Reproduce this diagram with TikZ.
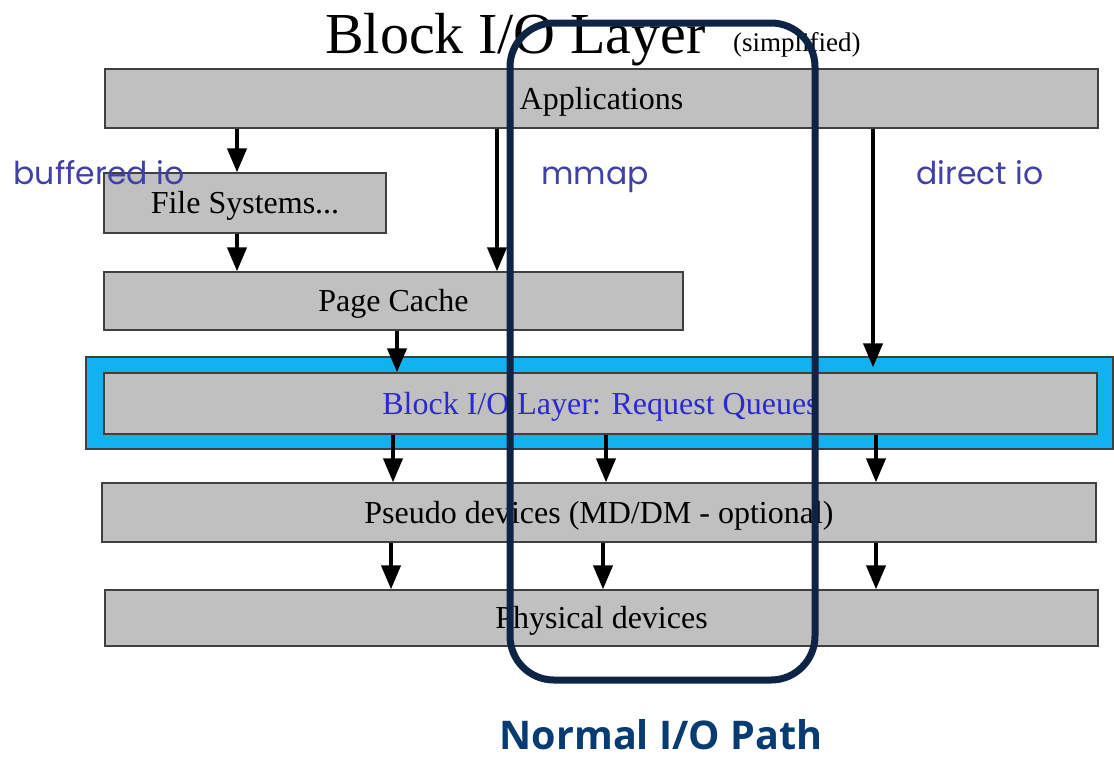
\documentclass[tikz,border=0pt]{standalone}
\usepackage{fontspec}
\setmainfont{Liberation Serif}
\newfontfamily\labelfont{Poppins}
\newfontfamily\pathfont{Open Sans}
\usetikzlibrary{arrows.meta}
\definecolor{boxgray}{HTML}{C0C0C0}
\definecolor{queuecyan}{HTML}{12B2F0}
\definecolor{queueblue}{HTML}{2A2AD0}
\definecolor{labelblue}{HTML}{4040A8}
\definecolor{navy}{HTML}{0E2444}
\definecolor{pathblue}{HTML}{073B73}
\tikzset{
  layer/.style={draw=black!75, fill=boxgray, line width=1.3pt, inner sep=0pt,
    text height=24pt, text depth=3pt, font=\fontsize{32}{36}\selectfont},
  flow/.style={line width=4pt, -{Triangle[width=19pt,length=24pt]}},
  iolabel/.style={anchor=base, text=labelblue, font=\labelfont\fontsize{31.5}{34}\selectfont, inner sep=0pt},
}
\begin{document}
\begin{tikzpicture}[x=1pt, y=-1pt]
\useasboundingbox (0,0) rectangle (1114,758);

% title
\node[anchor=base west, inner sep=0pt, font=\fontsize{58}{62}\selectfont] (title) at (325,53) {Block I/O Layer};
\node[anchor=base west, inner sep=0pt, font=\fontsize{27}{30}\selectfont] (simp) at (733,51) {(simplified)};

% layers
\node[layer, minimum width=993pt, minimum height=59pt] (app) at (601.5,98.5) {Applications};
\node[layer, minimum width=282pt, minimum height=60pt] (fs) at (245,203) {File Systems...};
\node[layer, minimum width=579pt, minimum height=58pt] (pc) at (393.5,301) {Page Cache};
\node[draw=black!75, fill=queuecyan, line width=1.3pt, minimum width=1027pt, minimum height=92pt, inner sep=0pt] (queue) at (599.5,403) {};
\node[layer, minimum width=993pt, minimum height=61pt, text=queueblue] (bio) at (600.5,403.5) {Block I/O Layer: Request Queues};
\node[layer, minimum width=994pt, minimum height=59pt] (pseudo) at (599,512.5) {Pseudo devices (MD/DM - optional)};
\node[layer, minimum width=993pt, minimum height=56pt] (phys) at (601.5,618) {Physical devices};

% arrow columns
\coordinate (cbuf) at (237,0);
\coordinate (cmmap) at (497,0);
\coordinate (cpc) at (397,0);
\coordinate (cdir) at (873,0);
\coordinate (cl) at (393,0);
\coordinate (cm) at (606,0);
\coordinate (cr) at (876,0);
\coordinate (cl2) at (391,0);
\coordinate (cm2) at (603,0);

\draw[flow] (app.south -| cbuf) -- (fs.north -| cbuf);
\draw[flow] (fs.south -| cbuf) -- (pc.north -| cbuf);
\draw[flow] (app.south -| cmmap) -- (pc.north -| cmmap);
\draw[flow] (pc.south -| cpc) -- (bio.north -| cpc);
\draw[flow] (app.south -| cdir) -- ([yshift=-11pt]queue.north -| cdir);
\draw[flow] (bio.south -| cl) -- (pseudo.north -| cl);
\draw[flow] (bio.south -| cm) -- (pseudo.north -| cm);
\draw[flow] (bio.south -| cr) -- (pseudo.north -| cr);
\draw[flow] (pseudo.south -| cl2) -- (phys.north -| cl2);
\draw[flow] (pseudo.south -| cm2) -- (phys.north -| cm2);
\draw[flow] (pseudo.south -| cr) -- (phys.north -| cr);

% path labels
\node[iolabel] (lbuf) at (99,184) {buffered io};
\node[iolabel] (lmmap) at (595,184) {mmap};
\node[iolabel] (ldir) at (980,184) {direct io};

% highlighted path
\node[draw=navy, line width=7pt, rounded corners=44pt, minimum width=305pt, minimum height=657pt, inner sep=0pt] (normal) at (662.5,351.5) {};
\node[anchor=base, text=pathblue, inner sep=0pt, font=\pathfont\bfseries\fontsize{39.5}{43}\selectfont] (normlabel) at (661,749) {Normal I/O Path};
\end{tikzpicture}
\end{document}
